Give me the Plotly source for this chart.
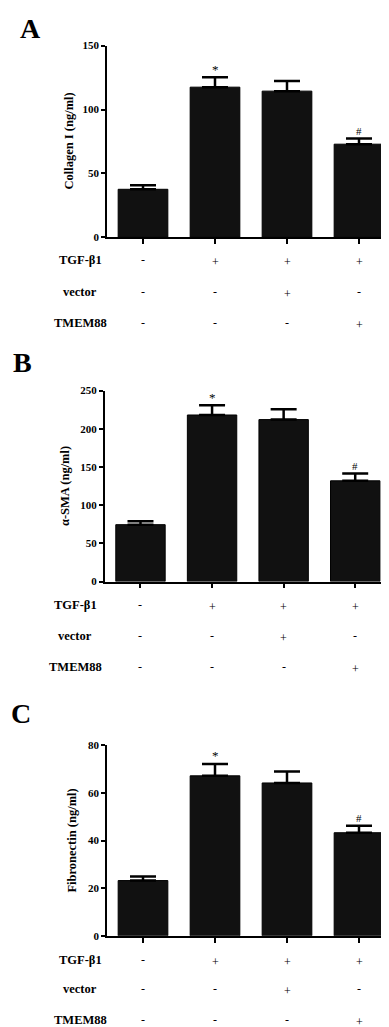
import plotly.graph_objects as go

# ---- data ----
groups = [0, 1, 2, 3]  # Control, TGF-β1, TGF-β1+vector, TGF-β1+TMEM88
collagen = [37.6, 117.5, 114.4, 72.9]
collagen_err = [3.1, 7.8, 8.0, 4.4]
sma = [74.5, 218.0, 212.0, 131.9]
sma_err = [4.4, 12.6, 13.4, 9.4]
fibronectin = [23.2, 67.2, 64.2, 43.3]
fibronectin_err = [1.7, 5.0, 4.8, 2.9]
collagen_ticks = [0, 50, 100, 150]
sma_ticks = [0, 50, 100, 150, 200, 250]
fibronectin_ticks = [0, 20, 40, 60, 80]
marks = ["", "*", "", "#"]
row_names = ["TGF-β1", "vector", "TMEM88"]
row_tgf = ["-", "+", "+", "+"]
row_vector = ["-", "-", "+", "-"]
row_tmem = ["-", "-", "-", "+"]
panel_letters = ["A", "B", "C"]
y_titles = ["Collagen I (ng/ml)", "α-SMA (ng/ml)", "Fibronectin (ng/ml)"]

W, H = 389, 1027
SERIF = "Liberation Serif, Times New Roman, serif"

def py(px):  # pixel from top -> paper y
    return 1 - px / H

def pxx(px):
    return px / W

panels = [
    dict(vals=collagen, err=collagen_err, ticks=collagen_ticks,
         top=32, bottom=226, xl=99, xr=387, letter_xy=(22, 15),
         title_x=61, rows_y=[249, 281, 313], label_x=72),
    dict(vals=sma, err=sma_err, ticks=sma_ticks,
         top=381, bottom=574.3, xl=96.7, xr=383, letter_xy=(14, 353),
         title_x=57, rows_y=[598, 629, 661], label_x=67),
    dict(vals=fibronectin, err=fibronectin_err, ticks=fibronectin_ticks,
         top=740, bottom=932.7, xl=99, xr=387, letter_xy=(13, 708),
         title_x=64, rows_y=[957, 987, 1018], label_x=72),
]

fig = go.Figure()
annotations = []
layout_axes = {}

for i, p in enumerate(panels):
    n = "" if i == 0 else str(i + 1)
    xa, ya = "x" + n, "y" + n
    fig.add_trace(go.Bar(
        x=groups, y=p["vals"], width=0.69,
        marker=dict(color="#111111", line=dict(color="black", width=1)),
        error_y=dict(type="data", symmetric=False, array=p["err"],
                     arrayminus=[0] * 4, color="black", thickness=2.5, width=13),
        xaxis=xa, yaxis=ya, showlegend=False,
    ))
    layout_axes["xaxis" + n] = dict(
        domain=[pxx(p["xl"]), pxx(p["xr"])], range=[-0.5, 3.5],
        anchor=ya, showline=True, linecolor="black", linewidth=1.5,
        tickmode="array", tickvals=groups, ticktext=["", "", "", ""],
        ticks="outside", ticklen=5, tickwidth=1.5, tickcolor="black",
        showgrid=False, zeroline=False, fixedrange=True,
    )
    layout_axes["yaxis" + n] = dict(
        domain=[py(p["bottom"]), py(p["top"])],
        range=[0, p["ticks"][-1]],
        anchor=xa, showline=True, linecolor="black", linewidth=1.5,
        tickmode="array", tickvals=p["ticks"],
        ticktext=["<b>%d</b>" % t for t in p["ticks"]],
        ticks="outside", ticklen=4, tickwidth=1.5,
        tickcolor="black", showgrid=False, zeroline=False,
        tickfont=dict(family=SERIF, size=11, color="black"),
        fixedrange=True,
    )
    # panel letter
    annotations.append(dict(
        text="<b>%s</b>" % panel_letters[i], xref="paper", yref="paper",
        x=pxx(p["letter_xy"][0]), y=py(p["letter_xy"][1]),
        xanchor="center", yanchor="middle", showarrow=False,
        font=dict(family=SERIF, size=28, color="black")))
    # y title
    annotations.append(dict(
        text="<b>%s</b>" % y_titles[i], xref="paper", yref="paper",
        x=pxx(p["title_x"]), y=py((p["top"] + p["bottom"]) / 2),
        textangle=-90, xanchor="center", yanchor="middle", showarrow=False,
        font=dict(family=SERIF, size=12.5, color="black")))
    # significance marks
    for g, m, v, e in zip(groups, marks, p["vals"], p["err"]):
        if m:
            annotations.append(dict(
                text=m, xref=xa, yref=ya, x=g, y=v + e, yshift=8,
                xanchor="center", yanchor="middle", showarrow=False,
                font=dict(family=SERIF, size=13 if m == "*" else 11, color="black")))
    # condition rows
    for r, (name, row) in enumerate(zip(row_names, [row_tgf, row_vector, row_tmem])):
        annotations.append(dict(
            text="<b>%s</b>" % name, xref="paper", yref="paper",
            x=pxx(p["label_x"]), y=py(p["rows_y"][r]),
            xanchor="center", yanchor="middle", showarrow=False,
            font=dict(family=SERIF, size=12.5, color="black")))
        for g, s in zip(groups, row):
            annotations.append(dict(
                text=s, xref=xa, yref="paper", x=g,
                y=py(p["rows_y"][r] + (2 if s == "+" else 0)),
                xanchor="center", yanchor="middle", showarrow=False,
                font=dict(family=SERIF, size=12, color="black")))

fig.update_layout(
    width=W, height=H, margin=dict(l=0, r=0, t=0, b=0),
    paper_bgcolor="white", plot_bgcolor="white",
    annotations=annotations, **layout_axes,
)

fig.write_html("out.html")
